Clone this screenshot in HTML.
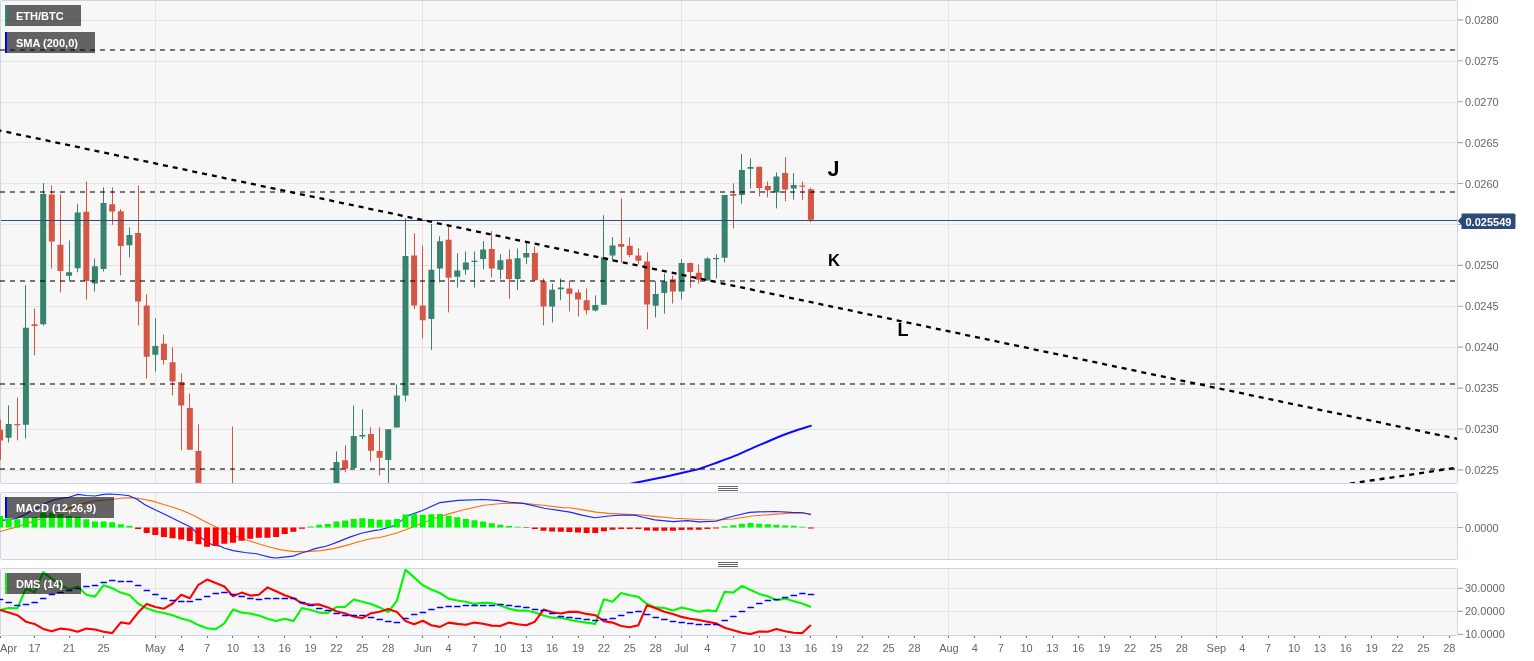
<!DOCTYPE html><html><head><meta charset="utf-8"><title>ETH/BTC</title><style>html,body{margin:0;padding:0;background:#fff;}body{width:1534px;height:661px;overflow:hidden;}svg{display:block;will-change:transform;}text{font-family:'Liberation Sans', Arial, sans-serif;}</style></head><body>
<svg width="1534" height="661" viewBox="0 0 1534 661">
<defs><clipPath id="cm"><rect x="0" y="1" width="1457" height="482"/></clipPath><clipPath id="cmacd"><rect x="0" y="493" width="1457" height="66"/></clipPath><clipPath id="cdms"><rect x="0" y="569" width="1457" height="66"/></clipPath></defs>
<rect x="0.5" y="0.5" rx="1.2" width="1457" height="483" fill="#f7f7f7" stroke="#cdd4e6" stroke-width="1"/>
<rect x="0.5" y="492.5" rx="1.2" width="1457" height="67" fill="#f7f7f7" stroke="#cdd4e6" stroke-width="1"/>
<rect x="0.5" y="568.5" rx="1.2" width="1457" height="67" fill="#f7f7f7" stroke="#cdd4e6" stroke-width="1"/>
<path d="M1 20.5 H1457 M1 61.5 H1457 M1 102.5 H1457 M1 142.5 H1457 M1 183.5 H1457 M1 224.5 H1457 M1 265.5 H1457 M1 306.5 H1457 M1 347.5 H1457 M1 388.5 H1457 M1 429.5 H1457 M1 470.5 H1457 M1 527.5 H1457 M1 588.5 H1457 M1 611.5 H1457 M155.5 1 V483 M155.5 493 V559 M155.5 569 V635 M422.5 1 V483 M422.5 493 V559 M422.5 569 V635 M681.5 1 V483 M681.5 493 V559 M681.5 569 V635 M948.5 1 V483 M948.5 493 V559 M948.5 569 V635 M1216.5 1 V483 M1216.5 493 V559 M1216.5 569 V635" stroke="#e4e4e4" stroke-width="1" fill="none"/>
<path d="M1458 19.9 H1463 M1458 60.81 H1463 M1458 101.72 H1463 M1458 142.63 H1463 M1458 183.54 H1463 M1458 224.44 H1463 M1458 265.35 H1463 M1458 306.26 H1463 M1458 347.17 H1463 M1458 388.08 H1463 M1458 428.99 H1463 M1458 469.9 H1463 M1458 527.5 H1463 M1458 588.4 H1463 M1458 611.4 H1463 M1458 634.4 H1463" stroke="#a8a8a8" stroke-width="1.1" fill="none"/>
<text x="1465" y="23.9" font-size="11" fill="#666666">0.0280</text>
<text x="1465" y="64.81" font-size="11" fill="#666666">0.0275</text>
<text x="1465" y="105.72" font-size="11" fill="#666666">0.0270</text>
<text x="1465" y="146.63" font-size="11" fill="#666666">0.0265</text>
<text x="1465" y="187.54" font-size="11" fill="#666666">0.0260</text>
<text x="1465" y="228.44" font-size="11" fill="#666666">0.0255</text>
<text x="1465" y="269.35" font-size="11" fill="#666666">0.0250</text>
<text x="1465" y="310.26" font-size="11" fill="#666666">0.0245</text>
<text x="1465" y="351.17" font-size="11" fill="#666666">0.0240</text>
<text x="1465" y="392.08" font-size="11" fill="#666666">0.0235</text>
<text x="1465" y="432.99" font-size="11" fill="#666666">0.0230</text>
<text x="1465" y="473.9" font-size="11" fill="#666666">0.0225</text>
<text x="1465" y="532.1" font-size="11" fill="#666666">0.0000</text>
<text x="1465" y="592.4" font-size="11" fill="#666666">30.0000</text>
<text x="1465" y="615.4" font-size="11" fill="#666666">20.0000</text>
<text x="1465" y="638.4" font-size="11" fill="#666666">10.0000</text>
<path d="M0.5 636 V638 M34.5 636 V638 M69.5 636 V638 M103.5 636 V638 M155.5 636 V638 M181.5 636 V638 M207.5 636 V638 M232.5 636 V638 M258.5 636 V638 M284.5 636 V638 M310.5 636 V638 M336.5 636 V638 M362.5 636 V638 M388.5 636 V638 M422.5 636 V638 M448.5 636 V638 M474.5 636 V638 M500.5 636 V638 M526.5 636 V638 M552.5 636 V638 M578.5 636 V638 M603.5 636 V638 M629.5 636 V638 M655.5 636 V638 M681.5 636 V638 M707.5 636 V638 M733.5 636 V638 M759.5 636 V638 M785.5 636 V638 M810.5 636 V638 M836.5 636 V638 M862.5 636 V638 M888.5 636 V638 M914.5 636 V638 M948.5 636 V638 M974.5 636 V638 M1000.5 636 V638 M1026.5 636 V638 M1052.5 636 V638 M1078.5 636 V638 M1104.5 636 V638 M1130.5 636 V638 M1155.5 636 V638 M1181.5 636 V638 M1216.5 636 V638 M1242.5 636 V638 M1268.5 636 V638 M1294.5 636 V638 M1319.5 636 V638 M1345.5 636 V638 M1371.5 636 V638 M1397.5 636 V638 M1423.5 636 V638 M1449.5 636 V638" stroke="#777777" stroke-width="1.2" fill="none"/>
<text x="0" y="652" font-size="11" fill="#666666">Apr</text>
<text x="34.55" y="652" font-size="11" fill="#666666" text-anchor="middle">17</text>
<text x="69.06" y="652" font-size="11" fill="#666666" text-anchor="middle">21</text>
<text x="103.56" y="652" font-size="11" fill="#666666" text-anchor="middle">25</text>
<text x="155.32" y="652" font-size="11" fill="#666666" text-anchor="middle">May</text>
<text x="181.2" y="652" font-size="11" fill="#666666" text-anchor="middle">4</text>
<text x="207.08" y="652" font-size="11" fill="#666666" text-anchor="middle">7</text>
<text x="232.96" y="652" font-size="11" fill="#666666" text-anchor="middle">10</text>
<text x="258.84" y="652" font-size="11" fill="#666666" text-anchor="middle">13</text>
<text x="284.72" y="652" font-size="11" fill="#666666" text-anchor="middle">16</text>
<text x="310.6" y="652" font-size="11" fill="#666666" text-anchor="middle">19</text>
<text x="336.48" y="652" font-size="11" fill="#666666" text-anchor="middle">22</text>
<text x="362.36" y="652" font-size="11" fill="#666666" text-anchor="middle">25</text>
<text x="388.24" y="652" font-size="11" fill="#666666" text-anchor="middle">28</text>
<text x="422.74" y="652" font-size="11" fill="#666666" text-anchor="middle">Jun</text>
<text x="448.62" y="652" font-size="11" fill="#666666" text-anchor="middle">4</text>
<text x="474.5" y="652" font-size="11" fill="#666666" text-anchor="middle">7</text>
<text x="500.38" y="652" font-size="11" fill="#666666" text-anchor="middle">10</text>
<text x="526.26" y="652" font-size="11" fill="#666666" text-anchor="middle">13</text>
<text x="552.14" y="652" font-size="11" fill="#666666" text-anchor="middle">16</text>
<text x="578.02" y="652" font-size="11" fill="#666666" text-anchor="middle">19</text>
<text x="603.9" y="652" font-size="11" fill="#666666" text-anchor="middle">22</text>
<text x="629.78" y="652" font-size="11" fill="#666666" text-anchor="middle">25</text>
<text x="655.66" y="652" font-size="11" fill="#666666" text-anchor="middle">28</text>
<text x="681.54" y="652" font-size="11" fill="#666666" text-anchor="middle">Jul</text>
<text x="707.42" y="652" font-size="11" fill="#666666" text-anchor="middle">4</text>
<text x="733.3" y="652" font-size="11" fill="#666666" text-anchor="middle">7</text>
<text x="759.18" y="652" font-size="11" fill="#666666" text-anchor="middle">10</text>
<text x="785.06" y="652" font-size="11" fill="#666666" text-anchor="middle">13</text>
<text x="810.93" y="652" font-size="11" fill="#666666" text-anchor="middle">16</text>
<text x="836.81" y="652" font-size="11" fill="#666666" text-anchor="middle">19</text>
<text x="862.69" y="652" font-size="11" fill="#666666" text-anchor="middle">22</text>
<text x="888.57" y="652" font-size="11" fill="#666666" text-anchor="middle">25</text>
<text x="914.45" y="652" font-size="11" fill="#666666" text-anchor="middle">28</text>
<text x="948.96" y="652" font-size="11" fill="#666666" text-anchor="middle">Aug</text>
<text x="974.84" y="652" font-size="11" fill="#666666" text-anchor="middle">4</text>
<text x="1000.72" y="652" font-size="11" fill="#666666" text-anchor="middle">7</text>
<text x="1026.6" y="652" font-size="11" fill="#666666" text-anchor="middle">10</text>
<text x="1052.48" y="652" font-size="11" fill="#666666" text-anchor="middle">13</text>
<text x="1078.36" y="652" font-size="11" fill="#666666" text-anchor="middle">16</text>
<text x="1104.24" y="652" font-size="11" fill="#666666" text-anchor="middle">19</text>
<text x="1130.12" y="652" font-size="11" fill="#666666" text-anchor="middle">22</text>
<text x="1155.99" y="652" font-size="11" fill="#666666" text-anchor="middle">25</text>
<text x="1181.87" y="652" font-size="11" fill="#666666" text-anchor="middle">28</text>
<text x="1216.38" y="652" font-size="11" fill="#666666" text-anchor="middle">Sep</text>
<text x="1242.26" y="652" font-size="11" fill="#666666" text-anchor="middle">4</text>
<text x="1268.14" y="652" font-size="11" fill="#666666" text-anchor="middle">7</text>
<text x="1294.02" y="652" font-size="11" fill="#666666" text-anchor="middle">10</text>
<text x="1319.9" y="652" font-size="11" fill="#666666" text-anchor="middle">13</text>
<text x="1345.78" y="652" font-size="11" fill="#666666" text-anchor="middle">16</text>
<text x="1371.66" y="652" font-size="11" fill="#666666" text-anchor="middle">19</text>
<text x="1397.54" y="652" font-size="11" fill="#666666" text-anchor="middle">22</text>
<text x="1423.42" y="652" font-size="11" fill="#666666" text-anchor="middle">25</text>
<text x="1449.3" y="652" font-size="11" fill="#666666" text-anchor="middle">28</text>
<g clip-path="url(#cm)">
<path d="M615 487.3 C617.27 486.78 621.1 485.78 628.6 484.2 C636.1 482.62 651.18 479.67 660 477.8 C668.82 475.93 674.83 474.53 681.5 473 C688.17 471.47 693.92 470.4 700 468.6 C706.08 466.8 711.67 464.53 718 462.2 C724.33 459.87 732.1 457.03 738 454.6 C743.9 452.17 748.4 449.78 753.4 447.6 C758.4 445.42 763.22 443.52 768 441.5 C772.78 439.48 777.43 437.33 782.1 435.5 C786.77 433.67 791.22 432.1 796 430.5 C800.78 428.9 808.33 426.67 810.8 425.9" fill="none" stroke="#0a0aff" stroke-width="2" stroke-linecap="round"/>
<path d="M8.5 405.4 V442.4 M25.5 285.2 V438.5 M43.5 183 V325.6 M69.5 240.4 V281.3 M77.5 204.2 V272.2 M94.5 258.5 V291.5 M103.5 187.3 V271.5 M129.5 227.4 V257.2 M155.5 318 V371.5 M336.5 451.5 V500 M353.5 405.5 V468.1 M362.5 409.4 V439.1 M388.5 429.3 V495 M396.5 384.5 V427.6 M405.5 218.4 V401.5 M431.5 223.9 V350.2 M439.5 236.3 V282.4 M457.5 253.3 V287.6 M465.5 251.5 V274.6 M474.5 251.5 V287.6 M483.5 241.1 V269.3 M500.5 254.1 V279.1 M517.5 248.5 V290.2 M526.5 242.8 V264.1 M552.5 283.7 V322.4 M560.5 278.5 V300.2 M595.5 295.4 V311.5 M603.5 215.2 V305 M612.5 237.1 V261.3 M655.5 281.3 V317.5 M664.5 273.5 V313.6 M681.5 259.2 V299.5 M707.5 257.2 V280.6 M716.5 254.5 V278.4 M724.5 195 V262.6 M741.5 154.1 V203.6 M750.5 158.3 V188.3 M776.5 172.3 V208.4 M793.5 173.2 V199.7" stroke="#37836f" stroke-width="1" fill="none"/>
<path d="M0.5 419.6 V460.2 M17.5 397.5 V440.4 M34.5 308.7 V355.4 M51.5 185.4 V268.5 M60.5 194.3 V292.4 M86.5 181.5 V299.5 M112.5 187.3 V224.8 M120.5 209.1 V275.4 M138.5 185.4 V325.4 M146.5 294.3 V378.5 M163.5 334.6 V364.6 M172.5 347.3 V395.2 M181.5 373.4 V450.2 M189.5 393.5 V449.8 M198.5 424.3 V500 M232.5 426.5 V500 M345.5 445.4 V472.4 M370.5 427.4 V461.5 M379.5 427.4 V475.4 M414.5 233.3 V309.1 M422.5 245.5 V338.3 M448.5 226.5 V312.4 M491.5 231.1 V277.5 M509.5 249.4 V298.7 M534.5 246.3 V281 M543.5 278.5 V325.4 M569.5 280.7 V311.4 M578.5 289.5 V316.5 M586.5 288.5 V314.5 M621.5 198.3 V262.6 M629.5 237.4 V257.2 M638.5 248.1 V264.4 M647.5 252.3 V329.3 M672.5 275.4 V303.5 M690.5 262.6 V287.8 M698.5 264.4 V283.6 M733.5 183.3 V228.5 M759.5 166.7 V196.5 M767.5 181.5 V197.4 M785.5 157.2 V201.3 M802.5 181.5 V200.2 M810.5 187.6 V222.4" stroke="#d45745" stroke-width="1" fill="none"/>
<path d="M5.67 424.1h6V437.8h-6Z M22.92 327.8h6V424.8h-6Z M40.18 193.9h6V324.3h-6Z M66.06 272.2h6V275.8h-6Z M74.68 212.4h6V268.3h-6Z M91.94 266.3h6V283.6h-6Z M100.56 203h6V268.9h-6Z M126.44 234.9h6V245.2h-6Z M152.32 346h6V354.8h-6Z M333.48 461.9h6V495h-6Z M350.73 435.9h6V468.1h-6Z M359.36 434.9h6V436.5h-6Z M385.24 429.3h6V460h-6Z M393.86 395.4h6V427.6h-6Z M402.49 256h6V395.6h-6Z M428.37 269.7h6V318.9h-6Z M437 241.3h6V268.4h-6Z M454.25 270.4h6V276.8h-6Z M462.88 262.6h6V269.7h-6Z M471.5 260.7h6V262.1h-6Z M480.13 249.5h6V258.9h-6Z M497.38 260.2h6V269.7h-6Z M514.63 258.3h6V278.9h-6Z M523.26 253h6V257.6h-6Z M549.14 289.8h6V306.5h-6Z M557.77 287.6h6V289.2h-6Z M592.27 305h6V310.6h-6Z M600.9 257.2h6V304.8h-6Z M609.53 245.4h6V255.4h-6Z M652.66 294.1h6V305.8h-6Z M661.28 281.3h6V293h-6Z M678.54 263h6V291.5h-6Z M704.42 258.5h6V280.6h-6Z M713.04 257.9h6V259.3h-6Z M721.67 195h6V257.8h-6Z M738.92 170h6V195h-6Z M747.55 167.1h6V168.7h-6Z M773.43 176.5h6V192.4h-6Z M790.68 185h6V188.5h-6Z" fill="#37836f"/>
<path d="M-2.96 429.7h6V440.4h-6Z M14.3 423.9h6V425.2h-6Z M31.55 324.3h6V325.9h-6Z M48.8 194.4h6V241.4h-6Z M57.43 244.7h6V270.9h-6Z M83.31 211.7h6V280.9h-6Z M109.19 204.2h6V211.5h-6Z M117.81 211.3h6V245.9h-6Z M135.07 233h6V301.5h-6Z M143.69 305.4h6V356.7h-6Z M160.95 343.7h6V360h-6Z M169.57 362.3h6V381.5h-6Z M178.2 381.9h6V405.6h-6Z M186.83 408.1h6V449.8h-6Z M195.45 451h6V495h-6Z M229.96 490h6V495h-6Z M342.1 460.2h6V468.8h-6Z M367.98 433.9h6V450.8h-6Z M376.61 451.1h6V457.8h-6Z M411.12 255.6h6V305.4h-6Z M419.74 305.4h6V320.2h-6Z M445.62 239.8h6V277.8h-6Z M488.75 249.1h6V268.4h-6Z M506.01 259.3h6V278.9h-6Z M531.89 253h6V280.2h-6Z M540.51 281.5h6V306.5h-6Z M566.39 288.5h6V293.7h-6Z M575.02 292.4h6V299.5h-6Z M583.65 300.2h6V310.2h-6Z M618.15 244.1h6V246.8h-6Z M626.78 245.8h6V255h-6Z M635.4 255.5h6V260.7h-6Z M644.03 261.5h6V304.5h-6Z M669.91 279.3h6V291.5h-6Z M687.16 263h6V271.9h-6Z M695.79 272.8h6V279.7h-6Z M730.3 194.1h6V195.7h-6Z M756.18 166.7h6V188h-6Z M764.8 185.9h6V190.2h-6Z M782.06 172.9h6V189.5h-6Z M799.31 185.4h6V186.7h-6Z M807.93 189.3h6V219.8h-6Z" fill="#d45745"/>
<path d="M0 50 H1457 M0 192 H1457 M0 281 H1457 M0 384 H1457 M0 469 H1457" stroke="#000" stroke-opacity="0.52" stroke-width="2" stroke-dasharray="5,5" fill="none"/>
<path d="M1 220.5 H1457" stroke="#2d4a7a" stroke-width="1"/>
<path d="M0 130.6 L1457 438.8" stroke="#000" stroke-width="2.3" stroke-dasharray="5,5" stroke-dashoffset="3.46" fill="none"/>
<path d="M1340 485.2 L1457 467.6" stroke="#000" stroke-width="2.3" stroke-dasharray="5,5" fill="none"/>
</g>
<clipPath id="cj"><rect x="834.7" y="150" width="12" height="35"/><rect x="820" y="164.2" width="26" height="21"/></clipPath>
<text x="827.6" y="176.3" font-size="21.5" font-weight="bold" fill="#000" clip-path="url(#cj)">J</text>
<text x="828" y="266" font-size="16.5" font-weight="bold" fill="#000">K</text>
<text x="897.5" y="336" font-size="18" font-weight="bold" fill="#000">L</text>
<rect x="5" y="5" width="76" height="21" fill="#000" fill-opacity="0.6"/>
<rect x="5" y="5" width="2" height="21" fill="#2e8b74"/>
<text x="16" y="20" font-size="11" font-weight="bold" fill="#fff">ETH/BTC</text>
<rect x="5" y="32" width="90" height="21" fill="#000" fill-opacity="0.6"/>
<rect x="5" y="32" width="2" height="21" fill="#0000ff"/>
<text x="16" y="47" font-size="11" font-weight="bold" fill="#fff">SMA (200,0)</text>
<path d="M1461.5 213.5 H1514 Q1515.5 213.5 1515.5 215 V227.5 Q1515.5 229 1514 229 H1461.5 V225 L1457.8 221 L1461.5 217 Z" fill="#2d4a7a"/>
<text x="1465.5" y="226" font-size="11" font-weight="bold" fill="#fff">0.025549</text>
<g clip-path="url(#cmacd)">
<polyline points="0,531.5 18.8,526.4 39.1,519.4 47,516.3 54.8,513.1 78.2,504.9 93.9,501 110,499.7 120.6,498.3 131.2,497.6 141.8,499 152.4,501.1 163,504.3 173.6,507.5 184.2,511.2 194.7,516 205.3,521.8 215.9,527.1 224.4,531.3 229.1,533.6 242.2,538.8 255.2,542.8 268.2,546.7 281.3,549.9 294.3,551.6 307.3,551.6 320.4,550.6 333.4,548.6 346.5,545.4 359.5,541.5 372.5,538.2 380,537.5 397,533 413.9,526.5 432.2,519.3 447.8,514.1 464.7,509.5 484.3,505.2 503.9,503.3 523.4,503.4 543,505.2 562.5,507.6 570,507.8 583,509.9 596.1,512.1 609.1,513.4 622.2,514.1 637.8,514.7 654.7,516.4 674.3,518.2 693.9,519.3 716,520.3 732.6,519 752.2,516 775.6,514.1 791.3,513.2 801.7,513 810.8,513.8" fill="none" stroke="#ff6f10" stroke-width="1.15" stroke-linejoin="round"/>
<polyline points="0,520.6 8.6,519.6 17.3,518.2 25.9,514 34.5,509.3 43.2,504.6 51.8,500.5 60.4,498.5 69.1,497.3 77.7,494.4 86.3,495.5 95,496 103.6,494.4 110,494 120.6,494.8 129.1,495.8 136.5,499 145,504.8 154.5,509.6 165.1,514.4 175.7,519.7 184.2,523.9 191.6,527.6 194.7,530.8 200,536.6 205.3,540.8 211.7,544.6 220.2,546.1 223.9,548 233,550.6 244.8,552.5 256.5,553.8 263,555.5 270.8,557.4 276,558 283.9,557.1 293,556.1 300.8,553.2 307.3,551.2 315.2,548.6 326.9,546 337.3,542.1 350.4,536.9 362.1,533 375.1,530.4 380,529.7 393,526.1 399.6,521.9 408.7,515.4 421.7,510.8 440,502.6 458.2,500.4 483,499.5 497.3,500.4 510.4,502.3 523.4,503.4 544.3,508.2 570,512.1 583,515.4 594.8,517.7 609.1,516 622.2,515 635.2,515.1 643,517.3 654.7,519.9 673,521.6 687.3,520.6 699.1,521.9 716,521.2 726.1,518 739.1,514.7 749.5,512.4 758.7,511.9 775.6,511.5 791.3,512.4 803,512.8 810.8,514.7" fill="none" stroke="#1428ff" stroke-width="1.15" stroke-linejoin="round"/>
<path d="M-2.96 516h6V527.4h-6Z M5.67 518.2h6V527.4h-6Z M14.3 519.3h6V527.4h-6Z M22.92 517.7h6V527.4h-6Z M31.55 516.9h6V527.4h-6Z M40.18 512.8h6V527.4h-6Z M48.8 512.8h6V527.4h-6Z M57.43 514.1h6V527.4h-6Z M66.06 516h6V527.4h-6Z M74.68 516.7h6V527.4h-6Z M83.31 519.3h6V527.4h-6Z M91.94 521.6h6V527.4h-6Z M100.56 521.6h6V527.4h-6Z M109.19 522.2h6V527.4h-6Z M117.81 524.2h6V527.4h-6Z M126.44 525.8h6V527.4h-6Z M307.6 526.5h6V527.4h-6Z M316.22 524.8h6V527.4h-6Z M324.85 523.9h6V527.4h-6Z M333.48 521.6h6V527.4h-6Z M342.1 520.6h6V527.4h-6Z M350.73 519h6V527.4h-6Z M359.36 518.2h6V527.4h-6Z M367.98 518.9h6V527.4h-6Z M376.61 519.7h6V527.4h-6Z M385.24 519.7h6V527.4h-6Z M393.86 518.9h6V527.4h-6Z M402.49 514.5h6V527.4h-6Z M411.12 513.8h6V527.4h-6Z M419.74 514.7h6V527.4h-6Z M428.37 514.3h6V527.4h-6Z M437 514.1h6V527.4h-6Z M445.62 515.8h6V527.4h-6Z M454.25 517.3h6V527.4h-6Z M462.88 518.9h6V527.4h-6Z M471.5 520.2h6V527.4h-6Z M480.13 521.5h6V527.4h-6Z M488.75 523.2h6V527.4h-6Z M497.38 524.8h6V527.4h-6Z M506.01 526.1h6V527.4h-6Z M514.63 526.8h6V527.4h-6Z M721.67 526.3h6V527.4h-6Z M730.3 525.2h6V527.4h-6Z M738.92 523.7h6V527.4h-6Z M747.55 523h6V527.4h-6Z M756.18 523.7h6V527.4h-6Z M764.8 524.3h6V527.4h-6Z M773.43 524.8h6V527.4h-6Z M782.06 525.5h6V527.4h-6Z M790.68 525.8h6V527.4h-6Z M799.31 526.7h6V527.4h-6Z" fill="#00f800"/>
<path d="M135.07 527.4h6V529.1h-6Z M143.69 527.4h6V533h-6Z M152.32 527.4h6V534.9h-6Z M160.95 527.4h6V536.9h-6Z M169.57 527.4h6V538.2h-6Z M178.2 527.4h6V539.5h-6Z M186.83 527.4h6V541h-6Z M195.45 527.4h6V544.2h-6Z M204.08 527.4h6V546.7h-6Z M212.71 527.4h6V546h-6Z M221.33 527.4h6V543.8h-6Z M229.96 527.4h6V542.8h-6Z M238.59 527.4h6V540.8h-6Z M247.21 527.4h6V538.8h-6Z M255.84 527.4h6V537.8h-6Z M264.47 527.4h6V537.8h-6Z M273.09 527.4h6V536.9h-6Z M281.72 527.4h6V533.9h-6Z M290.35 527.4h6V531.7h-6Z M298.97 527.4h6V528.7h-6Z M523.26 527.4h6V528h-6Z M531.89 527.4h6V529.1h-6Z M540.51 527.4h6V530.8h-6Z M549.14 527.4h6V531.4h-6Z M557.77 527.4h6V531.7h-6Z M566.39 527.4h6V532.1h-6Z M575.02 527.4h6V532.5h-6Z M583.65 527.4h6V533h-6Z M592.27 527.4h6V533h-6Z M600.9 527.4h6V531.3h-6Z M609.53 527.4h6V529.7h-6Z M618.15 527.4h6V529.1h-6Z M626.78 527.4h6V529.1h-6Z M635.4 527.4h6V529.1h-6Z M644.03 527.4h6V530.4h-6Z M652.66 527.4h6V530.8h-6Z M661.28 527.4h6V530.8h-6Z M669.91 527.4h6V530.8h-6Z M678.54 527.4h6V530h-6Z M687.16 527.4h6V529.7h-6Z M695.79 527.4h6V529.7h-6Z M704.42 527.4h6V529h-6Z M713.04 527.4h6V528.6h-6Z M807.93 527.4h6V528.6h-6Z" fill="#ff0000"/>
</g>
<rect x="5" y="497" width="109" height="21" fill="#000" fill-opacity="0.6"/>
<rect x="5" y="497" width="2" height="21" fill="#0000ff"/>
<text x="16" y="512" font-size="11" font-weight="bold" fill="#fff">MACD (12,26,9)</text>
<g clip-path="url(#cdms)">
<polyline points="0.04,610 8.67,608 17.3,608.3 25.92,588.5 34.55,592.4 43.18,572.2 51.8,578.7 60.43,584.6 69.06,589.5 77.68,586.5 86.31,594.7 94.94,596.6 103.56,585.2 112.19,588.2 120.81,592.6 129.44,595 138.07,603.5 146.69,608.3 155.32,611.3 163.95,613 172.57,615.2 181.2,618.5 189.83,620.8 198.45,625.1 207.08,628.2 215.71,629.1 224.33,623.4 232.96,609.6 241.59,612.6 250.21,613.5 258.84,615.6 267.47,618.7 276.09,621.1 284.72,618.7 293.35,621.1 301.97,608 310.6,610 319.22,612.6 327.85,613 336.48,607 345.1,607 353.73,599.5 362.36,601.8 370.98,604.1 379.61,607.4 388.24,612 396.86,600.9 405.49,569.6 414.12,577.4 422.74,585.2 431.37,589.5 440,593 448.62,598.6 457.25,600.5 465.88,601.8 474.5,603.9 483.13,602.8 491.75,603.1 500.38,605.4 509.01,608.7 517.63,610.6 526.26,610.6 534.89,612.6 543.51,615.6 552.14,617.8 560.77,617.8 569.39,619.8 578.02,621.5 586.65,622.6 595.27,623.9 603.9,599.2 612.53,601.8 621.15,593 629.78,595.2 638.4,596.9 647.03,604.1 655.66,607.4 664.28,608 672.91,610.6 681.54,607.4 690.16,609.6 698.79,611.7 707.42,610.4 716.04,611.3 724.67,591.7 733.3,592.6 741.92,585.9 750.55,590 759.18,593.9 767.8,596.3 776.43,600.2 785.06,598.6 793.68,601.2 802.31,603.5 810.93,607" fill="none" stroke="#00f800" stroke-width="2.1" stroke-linejoin="round"/>
<polyline points="0.04,610 8.67,612.6 17.3,615.2 25.92,621.7 34.55,623.9 43.18,628.9 51.8,631.2 60.43,628.6 69.06,629.5 77.68,631.8 86.31,628.6 94.94,629.5 103.56,631.8 112.19,633.1 120.81,622.4 129.44,623.7 138.07,612.6 146.69,604.1 155.32,607 163.95,608.7 172.57,603.5 181.2,594.7 189.83,598.2 198.45,584.8 207.08,579.6 215.71,583 224.33,586.5 232.96,596.3 241.59,592.6 250.21,595.6 258.84,594.7 267.47,587.4 276.09,591.3 284.72,595.2 293.35,598.2 301.97,603.1 310.6,604.8 319.22,604.4 327.85,607.4 336.48,611.3 345.1,613.5 353.73,616.5 362.36,618.2 370.98,613.2 379.61,611.7 388.24,609.1 396.86,611.9 405.49,621.1 414.12,624.3 422.74,620.8 431.37,625.2 440,626.9 448.62,622.6 457.25,623.9 465.88,624.7 474.5,622.6 483.13,623.7 491.75,625.6 500.38,626 509.01,622.6 517.63,624.3 526.26,625.2 534.89,621.7 543.51,609.6 552.14,612.2 560.77,613.5 569.39,611.8 578.02,611.9 586.65,613.9 595.27,615.2 603.9,621.1 612.53,622.6 621.15,626 629.78,627.3 638.4,625.2 647.03,605.2 655.66,608.3 664.28,611.7 672.91,613.9 681.54,616.9 690.16,618.7 698.79,620 707.42,621.7 716.04,623.4 724.67,627.8 733.3,630.2 741.92,632.8 750.55,634.1 759.18,631.5 767.8,631.8 776.43,628.9 785.06,631.2 793.68,632.8 802.31,633.1 810.93,625" fill="none" stroke="#ff0000" stroke-width="2.1" stroke-linejoin="round"/>
<path d="M-2.36 599.5 H2.64 M6.27 602.5 H11.27 M14.9 605.5 H19.9 M23.52 604.5 H28.52 M32.15 602.5 H37.15 M40.78 598.5 H45.78 M49.4 594.5 H54.4 M58.03 592.5 H63.03 M66.66 590.5 H71.66 M75.28 588.5 H80.28 M83.91 586.5 H88.91 M92.54 585.5 H97.54 M101.16 582.5 H106.16 M109.79 580.5 H114.79 M118.41 581.5 H123.41 M127.04 581.5 H132.04 M135.67 585.5 H140.67 M144.29 590.5 H149.29 M152.92 594.5 H157.92 M161.55 598.5 H166.55 M170.17 600.5 H175.17 M178.8 601.5 H183.8 M187.43 601.5 H192.43 M196.05 599.5 H201.05 M204.68 596.5 H209.68 M213.31 593.5 H218.31 M221.93 592.5 H226.93 M230.56 594.5 H235.56 M239.19 596.5 H244.19 M247.81 598.5 H252.81 M256.44 599.5 H261.44 M265.07 598.5 H270.07 M273.69 598.5 H278.69 M282.32 598.5 H287.32 M290.95 598.5 H295.95 M299.57 602.5 H304.57 M308.2 605.5 H313.2 M316.82 608.5 H321.82 M325.45 610.5 H330.45 M334.08 613.5 H339.08 M342.7 615.5 H347.7 M351.33 615.5 H356.33 M359.96 615.5 H364.96 M368.58 617.5 H373.58 M377.21 619.5 H382.21 M385.84 621.5 H390.84 M394.46 622.5 H399.46 M403.09 618.5 H408.09 M411.72 614.5 H416.72 M420.34 612.5 H425.34 M428.97 609.5 H433.97 M437.6 607.5 H442.6 M446.22 606.5 H451.22 M454.85 606.5 H459.85 M463.48 605.5 H468.48 M472.1 605.5 H477.1 M480.73 605.5 H485.73 M489.35 605.5 H494.35 M497.98 604.5 H502.98 M506.61 605.5 H511.61 M515.23 606.5 H520.23 M523.86 607.5 H528.86 M532.49 609.5 H537.49 M541.11 610.5 H546.11 M549.74 613.5 H554.74 M558.37 616.5 H563.37 M566.99 617.5 H571.99 M575.62 618.5 H580.62 M584.25 619.5 H589.25 M592.87 620.5 H597.87 M601.5 619.5 H606.5 M610.13 618.5 H615.13 M618.75 615.5 H623.75 M627.38 612.5 H632.38 M636 611.5 H641 M644.63 614.5 H649.63 M653.26 617.5 H658.26 M661.88 619.5 H666.88 M670.51 621.5 H675.51 M679.14 622.5 H684.14 M687.76 623.5 H692.76 M696.39 624.5 H701.39 M705.02 624.5 H710.02 M713.64 624.5 H718.64 M722.27 620.5 H727.27 M730.9 616.5 H735.9 M739.52 611.5 H744.52 M748.15 607.5 H753.15 M756.78 603.5 H761.78 M765.4 600.5 H770.4 M774.03 599.5 H779.03 M782.66 597.5 H787.66 M791.28 595.5 H796.28 M799.91 593.5 H804.91 M808.53 594.5 H813.53" fill="none" stroke="#0000ff" stroke-width="1.7" stroke-linecap="round"/>
</g>
<rect x="5" y="573" width="76" height="21" fill="#000" fill-opacity="0.6"/>
<rect x="5" y="573" width="2" height="21" fill="#00f800"/>
<text x="16" y="588" font-size="11" font-weight="bold" fill="#fff">DMS (14)</text>
<path d="M718 486.5 H738 M718 488.5 H738 M718 490.5 H738" stroke="#666" stroke-width="1"/>
<path d="M718 562.5 H738 M718 564.5 H738 M718 566.5 H738" stroke="#666" stroke-width="1"/>
</svg></body></html>
